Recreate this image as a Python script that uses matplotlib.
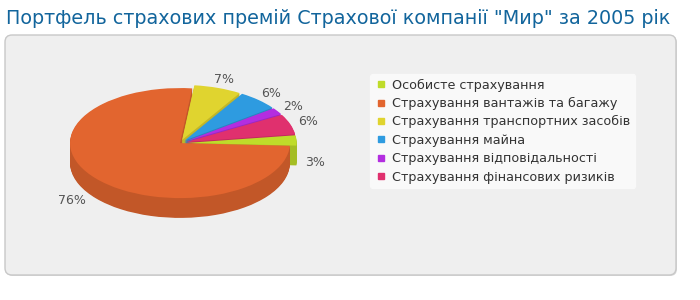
# Портфель страхових премій — "3D" кругова діаграма
import matplotlib.pyplot as plt
from matplotlib.patches import FancyBboxPatch
from matplotlib.lines import Line2D
from matplotlib.colors import to_rgb

names = ['Особисте страхування',
         'Страхування вантажів та багажу',
         'Страхування транспортних засобів',
         'Страхування майна',
         'Страхування відповідальності',
         'Страхування фінансових ризиків']
shares = [3, 76, 7, 6, 2, 6]
colors = ['#bfdc2a', '#e2652f', '#e0d42f', '#2e9be0', '#b32ee0', '#e0306e']
explode = [0.06, 0.0, 0.06, 0.06, 0.06, 0.06]

def darker(c, k=0.86):
    r, g, b = to_rgb(c)
    return (r * k, g * k, b * k)

fig = plt.figure(figsize=(7, 3), dpi=100)

# фон у пікселях
bg = fig.add_axes([0, 0, 1, 1])
bg.set_xlim(0, 700)
bg.set_ylim(300, 0)
bg.axis('off')
bg.add_patch(FancyBboxPatch((6, 36), 671, 240, boxstyle='round,pad=0,rounding_size=7',
                            facecolor='#d9d9d9', edgecolor='none'))
bg.add_patch(FancyBboxPatch((5, 35), 671, 240, boxstyle='round,pad=0,rounding_size=7',
                            facecolor='#efefef', edgecolor='#c8c8c8', linewidth=1))
fig.text(6 / 700, 1 - 18 / 300, 'Портфель страхових премій Страхової компанії "Мир" за 2005 рік',
         fontsize=13.8, color='#12659c', va='center', ha='left')

ax = fig.add_axes([40 / 700, 70 / 300, 280 / 700, 170 / 300])
depth = 0.36
steps = 24
for i in range(steps, 0, -1):
    ax.pie(shares, colors=[darker(c) for c in colors], explode=explode, startangle=8,
           counterclock=False, center=(0, -depth * i / steps),
           wedgeprops=dict(linewidth=0))
wedges, texts, autotexts = ax.pie(shares, colors=colors, explode=explode, startangle=8,
                                  counterclock=False, autopct=lambda p: '%.0f%%' % p,
                                  pctdistance=1.17, wedgeprops=dict(linewidth=0),
                                  textprops=dict(color='#555555', fontsize=9))
autotexts[1].set_position((-0.98, -1.05))
x0, y0 = autotexts[0].get_position()
autotexts[0].set_position((x0, y0 - 0.4))
ax.set_aspect('auto')
ax.set_xlim(-1.273, 1.273)
ax.set_ylim(-1.58, 1.51)

handles = [Line2D([], [], marker='s', linestyle='none', markersize=4,
                  markerfacecolor=c, markeredgecolor=c) for c in colors]
leg = fig.legend(handles, names, loc='upper left',
                 bbox_to_anchor=(370 / 700, 1 - 74 / 300), fontsize=9.2,
                 frameon=True, fancybox=True, facecolor='#f9f9f9', edgecolor='#f9f9f9',
                 framealpha=1, labelspacing=0.42, handlelength=1.0, handletextpad=0.4,
                 borderpad=0.35, borderaxespad=0)
for t in leg.get_texts():
    t.set_color('#333333')

plt.savefig('out.png', dpi=100)
